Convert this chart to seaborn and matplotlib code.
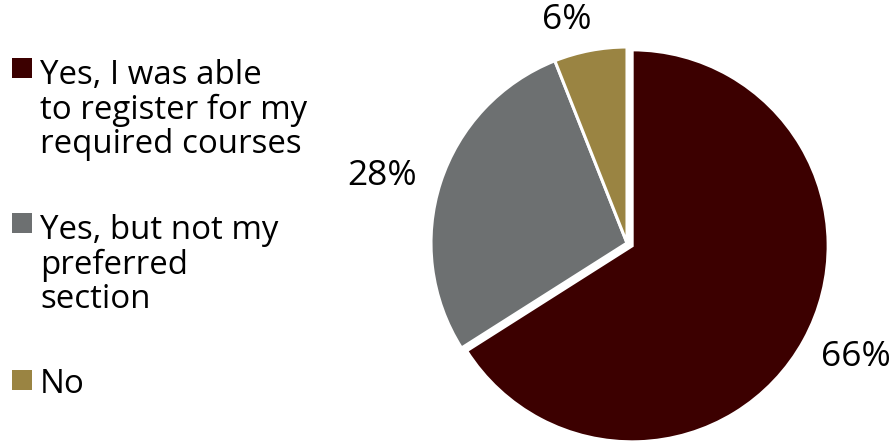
import matplotlib
matplotlib.use("Agg")
import matplotlib.pyplot as plt
import seaborn as sns
from matplotlib.patches import Rectangle

sns.set_theme(style="white")
plt.rcParams['font.family'] = ['Open Sans', 'DejaVu Sans']

# Data
categories = ["Yes, I was able\nto register for my\nrequired courses",
              "Yes, but not my\npreferred\nsection",
              "No"]
values = [66, 28, 6]
colors = ["#3C0000", "#6D7071", "#9A8442"]
explode = [0.03, 0, 0]

W, H = 891, 441
fig = plt.figure(figsize=(W / 100, H / 100), dpi=100)

cx, cy, R = 627, 243, 196
ax = fig.add_axes([(cx - R) / W, (H - cy - R) / H, 2 * R / W, 2 * R / H])
wedges, texts, autotexts = ax.pie(
    values, colors=colors, startangle=90, counterclock=False,
    explode=explode, autopct=lambda p: f"{p:.0f}%",
    wedgeprops=dict(edgecolor="white", linewidth=2.2),
    textprops=dict(fontsize=25.5, color="black"))
ax.set_xlim(-1, 1)
ax.set_ylim(-1, 1)
ax.set_aspect("auto")
ax.axis("off")
for w in wedges:
    w.set_clip_on(False)

label_pos = [(1.168, -0.582), (-1.25, 0.342), (-0.306, 1.138)]
for t, (x, y) in zip(autotexts, label_pos):
    t.set_position((x, y))
    t.set_ha("center")
    t.set_va("center")
    t.set_clip_on(False)

# Legend (manual); baselines of first lines, 36 px line pitch
first_baselines = [81, 236, 393]
pitch = 36
for cat, col, b in zip(categories, colors, first_baselines):
    n = cat.count("\n")
    fig.patches.append(Rectangle((12 / W, (H - b + 3) / H), 20 / W, 20 / H,
                                 transform=fig.transFigure, facecolor=col,
                                 edgecolor="none"))
    fig.text(40 / W, (H - b - n * pitch) / H, cat, fontsize=23.8, ha="left",
             va="baseline", linespacing=1.05, color="black")

fig.savefig("out.png", dpi=100)
